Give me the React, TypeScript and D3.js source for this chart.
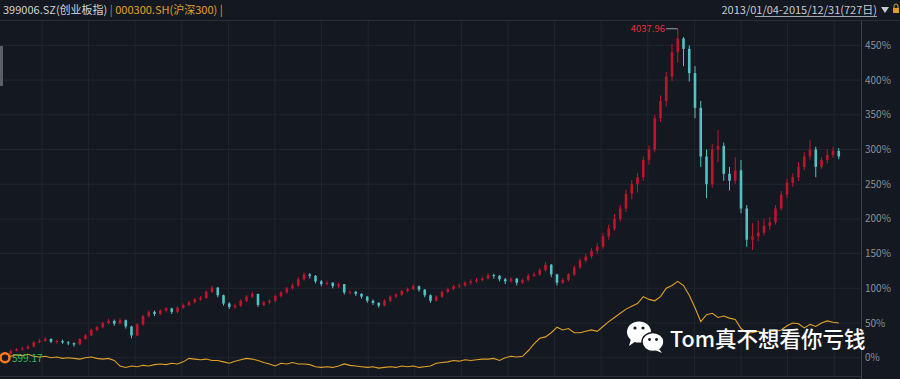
import React from "react";
import * as d3 from "d3";

// ChiNext (399006.SZ) weekly-sampled candles, % change since 2013/01/04
const cnClose = [5,10,12,13,16,22,24,27,23,24,22,21,19,27,32,40,44,50,53,49,54,45,32,48,60,66,63,68,71,66,72,76,80,84,86,95,101,90,78,73,75,82,88,92,76,80,82,89,94,100,104,113,120,118,110,106,108,103,106,94,95,92,88,82,79,75,82,88,91,96,99,103,98,90,82,88,95,99,103,104,108,110,112,114,119,118,113,110,114,108,112,118,120,126,134,120,108,112,120,130,140,146,154,160,175,186,200,215,236,250,260,285,300,345,370,405,440,460,445,410,360,290,250,300,305,265,255,270,215,170,175,180,190,195,215,235,252,260,275,290,300,275,285,292,298,290];
const cnHigh = [8,12,14,16,18,24,27,30,28,26,26,24,22,28,34,42,46,52,56,55,57,55,46,50,62,68,68,70,73,72,74,78,82,86,89,97,104,102,91,80,78,84,90,95,92,82,84,91,96,102,107,116,123,122,119,112,111,109,108,106,97,96,93,89,84,80,84,90,93,98,101,106,104,99,91,90,97,101,105,107,110,113,115,117,122,121,119,115,116,115,114,121,123,129,138,135,121,115,122,133,143,150,158,165,180,192,207,220,242,256,266,290,306,350,378,412,452,474,462,450,420,370,300,308,328,310,275,289,285,220,194,198,200,203,220,240,258,266,282,296,314,304,289,300,304,302];
const cnLow = [1,4,9,10,12,15,21,23,21,20,20,18,16,18,26,31,38,42,48,46,48,42,28,31,46,58,60,61,65,63,64,70,74,78,82,85,93,87,75,70,70,73,80,86,73,74,77,80,87,92,98,102,111,114,107,103,104,100,101,91,91,89,85,79,76,72,74,80,86,89,94,97,95,87,79,81,86,93,97,100,102,105,108,110,113,114,110,106,108,104,106,110,116,118,124,116,104,106,110,118,128,137,143,150,157,170,183,196,210,228,238,255,278,296,340,362,398,425,420,398,345,275,230,245,282,255,241,250,208,160,155,168,176,184,192,212,230,246,255,270,285,260,272,280,288,286];
// CSI 300 (000300.SH) % change, same sampling
const hsClose = [0,2,4,3,5,2,1,2,0,1,-1,0,-1,-2,0,1,-1,-2,-1,-4,-12,-14,-12,-13,-11,-12,-10,-9,-10,-8,-9,-6,-1,-2,-3,-2,-4,-4,-6,-8,-5,-3,-1,-2,-4,-7,-9,-12,-8,-9,-7,-9,-9,-10,-13,-14,-13,-14,-12,-9,-11,-12,-13,-14,-13,-15,-14,-13,-14,-12,-13,-12,-14,-13,-12,-8,-7,-6,-4,-5,-3,-4,-3,-2,-2,-1,-4,0,2,1,2,10,20,28,30,36,44,40,42,36,36,38,40,38,45,52,58,64,70,74,78,88,84,82,88,100,104,110,104,90,72,52,62,64,58,60,57,55,42,36,36,38,36,37,38,40,46,50,49,43,48,45,50,53,51,50];
const yTicks = [0,50,100,150,200,250,300,350,400,450];
const peakLabel = "4037.96";
const startLabel = "599.17";
const title1 = "399006.SZ(创业板指)";
const title2 = "000300.SH(沪深300)";
const rangeLabel = "2013/01/04-2015/12/31(727日)";
const watermark = "Tom真不想看你亏钱";

const W = 900, H = 379;
const BG = "#141820";
const UP = "#c0142d";
const DOWN = "#52c2c4";
const GOLD = "#e0a126";
const FONT = "'Noto Sans CJK SC', 'Noto Sans', sans-serif";

export default function App() {
  const n = cnClose.length;
  const x = d3.scaleLinear().domain([0, n - 1]).range([5, 838.75]);
  const y = d3.scaleLinear().domain([0, 450]).range([357.7, 45.4]);
  const bw = 2.6;
  const line = d3.line<number>().x((_, i) => x(i)).y((d) => y(d));
  const vGrid = d3.range(18).map((k) => 42 + k * 46.6);
  const peakIdx = d3.maxIndex(cnHigh);

  return (
    <svg width={W} height={H} style={{ position: "absolute", left: 0, top: 0, background: BG }} fontFamily={FONT}>
      <rect x={0} y={0} width={W} height={H} fill={BG} />
      {/* grid */}
      {yTicks.map((t) => (
        <line key={"h" + t} x1={0} x2={861} y1={y(t)} y2={y(t)} stroke="#20252f" strokeWidth={1} />
      ))}
      {vGrid.map((v, i) => (
        <line key={"v" + i} x1={v} x2={v} y1={21} y2={376} stroke="#20252f" strokeWidth={1} />
      ))}
      <line x1={0} x2={W} y1={20.5} y2={20.5} stroke="#2a303b" />
      <line x1={0} x2={861} y1={376.5} y2={376.5} stroke="#2a303b" />
      <line x1={861.5} x2={861.5} y1={21} y2={H} stroke="#3a404c" />
      <rect x={0} y={46} width={3} height={40} fill="#5a5f68" />
      {/* axis labels */}
      {yTicks.map((t) => (
        <text key={"t" + t} x={865} y={y(t) + 3.5} fontSize={10} fill="#8c919b">{t + "%"}</text>
      ))}
      {/* CSI300 line */}
      <path d={line(hsClose) || ""} fill="none" stroke={GOLD} strokeWidth={1.1} />
      {/* candles */}
      {cnClose.map((c, i) => {
        const o = i === 0 ? 3 : cnClose[i - 1];
        const col = c >= o ? UP : DOWN;
        const top = y(Math.max(o, c));
        const bot = y(Math.min(o, c));
        return (
          <g key={"c" + i}>
            <line x1={x(i)} x2={x(i)} y1={y(cnHigh[i])} y2={y(cnLow[i])} stroke={col} strokeWidth={1} />
            <rect x={x(i) - bw / 2} y={top} width={bw} height={Math.max(1, bot - top)} fill={col} />
          </g>
        );
      })}
      {/* peak label */}
      <line x1={666} x2={x(peakIdx)} y1={y(cnHigh[peakIdx])} y2={y(cnHigh[peakIdx])} stroke="#9aa0a8" />
      <text x={665} y={y(cnHigh[peakIdx]) + 3.5} fontSize={9.5} fill="#e0303f" textAnchor="end">{peakLabel}</text>
      {/* start marker */}
      <circle cx={x(0)} cy={y(0)} r={4.5} fill={BG} stroke="#ff7a1a" strokeWidth={2.5} />
      <text x={12} y={y(0) + 4} fontSize={10} fill="#2fbf5a">{startLabel}</text>
      {/* header */}
      <text x={3} y={14} fontSize={11} fill="#d2d4d8">
        {title1}
        <tspan fill="#8c919b">{" | "}</tspan>
        <tspan fill={GOLD}>{title2 + " |"}</tspan>
      </text>
      <text x={877} y={14} fontSize={11} fill="#c8cad0" textAnchor="end">{rangeLabel}</text>
      <line x1={755} x2={877} y1={16.5} y2={16.5} stroke="#c8cad0" strokeWidth={0.8} />
      <path d="M881,7 L889,7 L885,13 Z" fill="#c8cad0" />
      <rect x={893} y={8} width={6} height={5} fill="#e0a126" />
      <path d="M894,8 V6 A2,2 0 0 1 898,6 V8" fill="none" stroke="#e0a126" strokeWidth={1} />
      {/* watermark */}
      <g>
        <ellipse cx={639} cy={332} rx={12} ry={10.5} fill="#ffffff" />
        <path d="M631,339 L629,346 L636,341 Z" fill="#ffffff" />
        <circle cx={635} cy={328} r={1.6} fill={BG} />
        <circle cx={643} cy={328} r={1.6} fill={BG} />
        <ellipse cx={653} cy={342} rx={11} ry={9.5} fill="#ffffff" stroke={BG} strokeWidth={1.5} />
        <path d="M659,349 L662,353 L655,350 Z" fill="#ffffff" />
        <circle cx={649.5} cy={339.5} r={1.4} fill={BG} />
        <circle cx={656.5} cy={339.5} r={1.4} fill={BG} />
        <text x={670} y={347} fontSize={21.5} fill="#ffffff" fontWeight={500}>{watermark}</text>
      </g>
    </svg>
  );
}
